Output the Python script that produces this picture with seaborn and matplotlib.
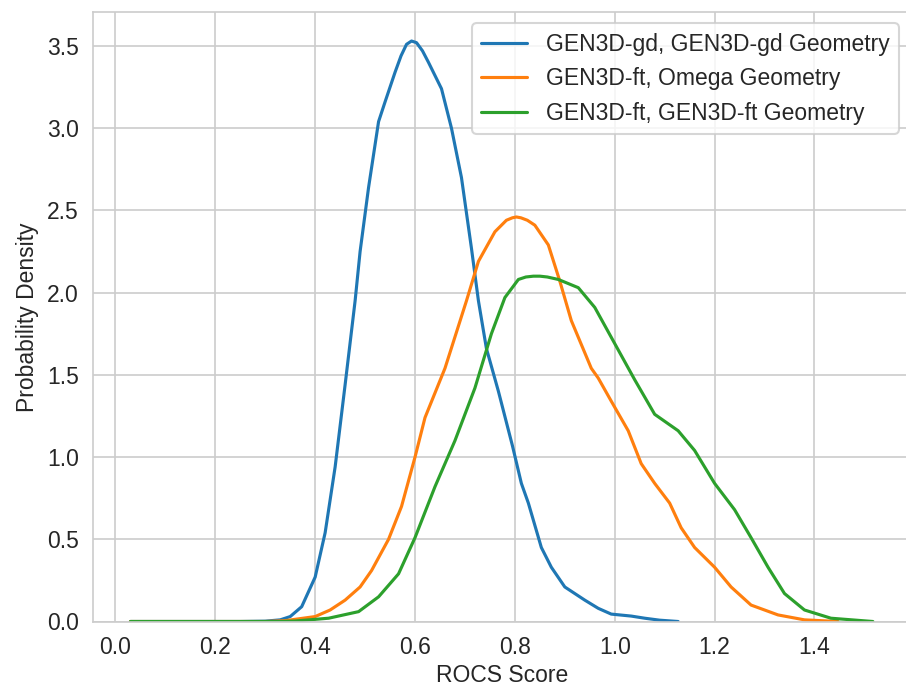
import matplotlib
matplotlib.use('Agg')
import matplotlib.pyplot as plt
import seaborn as sns
import pandas as pd

# Кривые плотности (x = ROCS Score, y = плотность)
gd_x = [0.03, 0.25, 0.30, 0.33, 0.35, 0.373, 0.40, 0.42, 0.44, 0.46, 0.48, 0.49,
        0.507, 0.527, 0.54, 0.56, 0.572, 0.583, 0.593, 0.603, 0.615, 0.627, 0.64,
        0.653, 0.673, 0.693, 0.713, 0.727, 0.743, 0.767, 0.795, 0.813, 0.827,
        0.853, 0.873, 0.90, 0.92, 0.94, 0.967, 0.993, 1.033, 1.06, 1.09, 1.127]
gd_y = [0.0, 0.0, 0.002, 0.01, 0.03, 0.09, 0.27, 0.54, 0.94, 1.44, 1.95, 2.25,
        2.64, 3.04, 3.16, 3.34, 3.44, 3.51, 3.53, 3.52, 3.47, 3.40, 3.32,
        3.24, 3.00, 2.70, 2.27, 1.95, 1.66, 1.40, 1.07, 0.84, 0.72,
        0.45, 0.33, 0.21, 0.17, 0.13, 0.08, 0.045, 0.033, 0.02, 0.008, 0.0]

omega_x = [0.03, 0.30, 0.34, 0.40, 0.43, 0.46, 0.49, 0.513, 0.547, 0.573, 0.60,
           0.62, 0.66, 0.703, 0.727, 0.76, 0.783, 0.795, 0.803, 0.812, 0.825,
           0.84, 0.867, 0.89, 0.913, 0.953, 0.967, 0.993, 1.027, 1.053, 1.08,
           1.11, 1.133, 1.16, 1.20, 1.233, 1.273, 1.327, 1.38, 1.447]
omega_y = [0.0, 0.0, 0.005, 0.03, 0.07, 0.13, 0.21, 0.31, 0.50, 0.70, 1.00,
           1.24, 1.54, 1.95, 2.19, 2.37, 2.44, 2.455, 2.46, 2.455, 2.44,
           2.41, 2.29, 2.07, 1.83, 1.54, 1.48, 1.34, 1.16, 0.96, 0.84,
           0.72, 0.57, 0.45, 0.33, 0.21, 0.10, 0.04, 0.01, 0.0]

ft_x = [0.03, 0.33, 0.36, 0.427, 0.487, 0.527, 0.567, 0.60, 0.64, 0.68, 0.72,
        0.743, 0.753, 0.78, 0.807, 0.822, 0.837, 0.85, 0.865, 0.887, 0.927,
        0.96, 1.00, 1.04, 1.08, 1.127, 1.16, 1.20, 1.24, 1.273, 1.307, 1.34,
        1.38, 1.433, 1.517]
ft_y = [0.0, 0.0, 0.003, 0.02, 0.06, 0.15, 0.29, 0.51, 0.82, 1.10, 1.42,
        1.65, 1.75, 1.97, 2.08, 2.095, 2.10, 2.10, 2.095, 2.08, 2.03,
        1.91, 1.69, 1.47, 1.26, 1.16, 1.04, 0.84, 0.68, 0.51, 0.33, 0.17,
        0.07, 0.02, 0.0]

labels = ['GEN3D-gd, GEN3D-gd Geometry',
          'GEN3D-ft, Omega Geometry',
          'GEN3D-ft, GEN3D-ft Geometry']

sns.set_style('whitegrid')
sns.set_palette('tab10')
plt.rcParams['font.family'] = ['Liberation Sans', 'DejaVu Sans']
plt.rcParams['font.size'] = 11

fig = plt.figure(figsize=(906 / 150, 687 / 150), dpi=150)
# правая граница осей выходит за край картинки, как в оригинале
ax = fig.add_axes([93.3 / 906, 65.5 / 687, 816.7 / 906, 609.5 / 687])

for xs, ys, lab in zip([gd_x, omega_x, ft_x], [gd_y, omega_y, ft_y], labels):
    df = pd.DataFrame({'x': xs, 'y': ys})
    sns.lineplot(data=df, x='x', y='y', ax=ax, label=lab, linewidth=1.5)

ax.set_ylim(0, None)
ax.set_xticks([0.0, 0.2, 0.4, 0.6, 0.8, 1.0, 1.2, 1.4])
ax.tick_params(labelsize=11)
ax.set_xlabel('ROCS Score', fontsize=11, labelpad=2.5)
ax.set_ylabel('Probability Density', fontsize=11)
ax.legend(loc='upper right', fontsize=11)

fig.savefig('out.png', dpi=150)
plt.close(fig)
